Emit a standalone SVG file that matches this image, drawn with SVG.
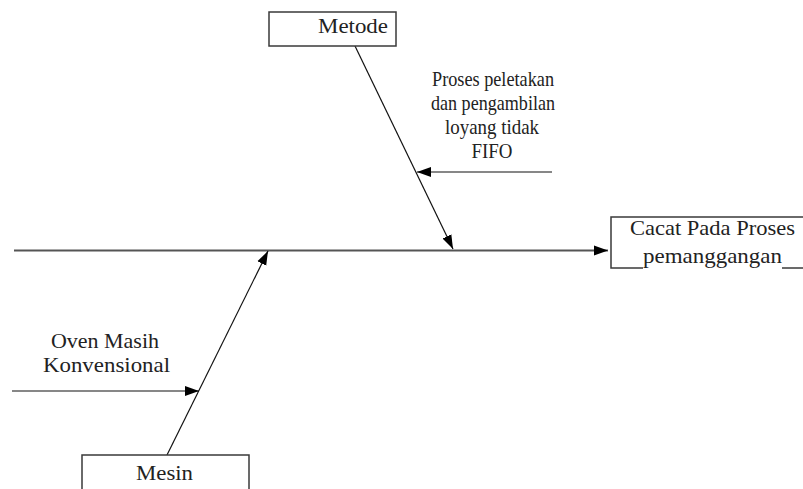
<svg xmlns="http://www.w3.org/2000/svg" width="803" height="489" viewBox="0 0 803 489">
  <style>
    .box { fill: #ffffff; stroke: #3a3a3a; stroke-width: 1.5; }
    .lbl { font-family: "Liberation Serif", "Times New Roman", serif; font-size: 22px; fill: #222222; text-anchor: middle; }
    .sm { font-size: 21px; }
    .edge { stroke: #111111; stroke-width: 1.2; fill: none; marker-end: url(#head); }
    .spine { stroke: #555555; stroke-width: 1.8; fill: none; marker-end: url(#head); }
  </style>
  <defs>
    <marker id="head" viewBox="0 0 10 10" refX="10" refY="5" markerWidth="14" markerHeight="14" markerUnits="userSpaceOnUse" orient="auto">
      <path d="M0,1.5 L10,5 L0,8.5 Z" fill="#000000"/>
    </marker>
  </defs>

  <!-- connectors -->
  <g id="connectors">
    <line class="spine" x1="14" y1="250.5" x2="608" y2="250.5"/>
    <line class="edge" x1="355" y1="46" x2="453" y2="249"/>
    <line class="edge" x1="552" y1="172" x2="417" y2="172"/>
    <line class="edge" x1="167" y1="455" x2="268" y2="251"/>
    <line class="edge" x1="12" y1="391" x2="199" y2="391"/>
  </g>

  <!-- head: effect -->
  <g id="effect">
    <rect class="box" x="611" y="217" width="200" height="51"/>
    <rect x="643" y="252" width="139" height="17" fill="#ffffff"/>
    <text class="lbl" x="712.5" y="235" textLength="165" lengthAdjust="spacingAndGlyphs">Cacat Pada Proses</text>
    <text class="lbl" x="712.5" y="263" textLength="139" lengthAdjust="spacingAndGlyphs">pemanggangan</text>
  </g>

  <!-- cause category: method -->
  <g id="metode">
    <rect class="box" x="269" y="12" width="127" height="34"/>
    <text class="lbl" x="353" y="33" textLength="70" lengthAdjust="spacingAndGlyphs">Metode</text>
  </g>

  <!-- cause category: machine -->
  <g id="mesin">
    <rect class="box" x="82" y="455" width="167" height="40"/>
    <text class="lbl" x="164.5" y="480" textLength="57" lengthAdjust="spacingAndGlyphs">Mesin</text>
  </g>

  <!-- sub-causes -->
  <g id="cause-fifo">
    <text class="lbl sm" x="493" y="86" textLength="122" lengthAdjust="spacingAndGlyphs">Proses peletakan</text>
    <text class="lbl sm" x="493" y="110" textLength="124" lengthAdjust="spacingAndGlyphs">dan pengambilan</text>
    <text class="lbl sm" x="492" y="134" textLength="94" lengthAdjust="spacingAndGlyphs">loyang tidak</text>
    <text class="lbl sm" x="492" y="158" textLength="41" lengthAdjust="spacingAndGlyphs">FIFO</text>
  </g>

  <g id="cause-oven">
    <text class="lbl" x="105" y="348" textLength="108" lengthAdjust="spacingAndGlyphs">Oven Masih</text>
    <text class="lbl" x="106.5" y="372" textLength="127" lengthAdjust="spacingAndGlyphs">Konvensional</text>
  </g>
</svg>
